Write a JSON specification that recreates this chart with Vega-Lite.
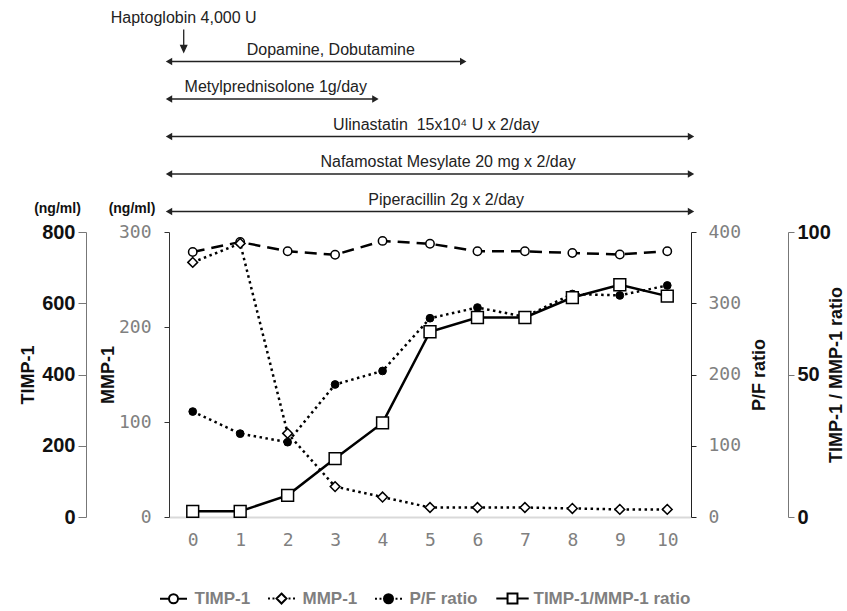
{
  "$schema": "https://vega.github.io/schema/vega-lite/v6.json",
  "padding": {"left": 19, "top": 10, "right": 4, "bottom": 4},
  "background": "white",
  "datasets": {
    "series": [
      {"series": "TIMP-1", "day": 0, "value": 744},
      {"series": "TIMP-1", "day": 1, "value": 772},
      {"series": "TIMP-1", "day": 2, "value": 746},
      {"series": "TIMP-1", "day": 3, "value": 736},
      {"series": "TIMP-1", "day": 4, "value": 775},
      {"series": "TIMP-1", "day": 5, "value": 767},
      {"series": "TIMP-1", "day": 6, "value": 746},
      {"series": "TIMP-1", "day": 7, "value": 746},
      {"series": "TIMP-1", "day": 8, "value": 741},
      {"series": "TIMP-1", "day": 9, "value": 737},
      {"series": "TIMP-1", "day": 10, "value": 746},
      {"series": "MMP-1", "day": 0, "value": 268},
      {"series": "MMP-1", "day": 1, "value": 288},
      {"series": "MMP-1", "day": 2, "value": 88},
      {"series": "MMP-1", "day": 3, "value": 32},
      {"series": "MMP-1", "day": 4, "value": 21},
      {"series": "MMP-1", "day": 5, "value": 10},
      {"series": "MMP-1", "day": 6, "value": 10},
      {"series": "MMP-1", "day": 7, "value": 10},
      {"series": "MMP-1", "day": 8, "value": 9},
      {"series": "MMP-1", "day": 9, "value": 8},
      {"series": "MMP-1", "day": 10, "value": 8},
      {"series": "P/F ratio", "day": 0, "value": 148},
      {"series": "P/F ratio", "day": 1, "value": 117},
      {"series": "P/F ratio", "day": 2, "value": 105},
      {"series": "P/F ratio", "day": 3, "value": 186},
      {"series": "P/F ratio", "day": 4, "value": 205},
      {"series": "P/F ratio", "day": 5, "value": 279},
      {"series": "P/F ratio", "day": 6, "value": 294},
      {"series": "P/F ratio", "day": 7, "value": 281},
      {"series": "P/F ratio", "day": 8, "value": 313},
      {"series": "P/F ratio", "day": 9, "value": 311},
      {"series": "P/F ratio", "day": 10, "value": 325},
      {"series": "TIMP-1/MMP-1 ratio", "day": 0, "value": 2},
      {"series": "TIMP-1/MMP-1 ratio", "day": 1, "value": 2},
      {"series": "TIMP-1/MMP-1 ratio", "day": 2, "value": 7.6},
      {"series": "TIMP-1/MMP-1 ratio", "day": 3, "value": 20.5},
      {"series": "TIMP-1/MMP-1 ratio", "day": 4, "value": 33},
      {"series": "TIMP-1/MMP-1 ratio", "day": 5, "value": 65},
      {"series": "TIMP-1/MMP-1 ratio", "day": 6, "value": 70},
      {"series": "TIMP-1/MMP-1 ratio", "day": 7, "value": 70},
      {"series": "TIMP-1/MMP-1 ratio", "day": 8, "value": 77},
      {"series": "TIMP-1/MMP-1 ratio", "day": 9, "value": 81.5},
      {"series": "TIMP-1/MMP-1 ratio", "day": 10, "value": 77.5}
    ],
    "notes": [
      {"label": "Haptoglobin 4,000 U", "kind": "event", "row": 0, "start": -0.19, "end": -0.19, "label_day": -0.19},
      {"label": "Dopamine, Dobutamine", "kind": "range", "row": 1, "start": -0.5, "end": 5.7, "label_day": 2.91},
      {"label": "Metylprednisolone 1g/day", "kind": "range", "row": 2, "start": -0.5, "end": 3.85, "label_day": 1.75},
      {"label": "Ulinastatin\u00a0 15x10⁴ U x 2/day", "kind": "range", "row": 3, "start": -0.5, "end": 10.5, "label_day": 5.13},
      {"label": "Nafamostat Mesylate 20 mg x 2/day", "kind": "range", "row": 4, "start": -0.5, "end": 10.5, "label_day": 5.38},
      {"label": "Piperacillin 2g x 2/day", "kind": "range", "row": 5, "start": -0.5, "end": 10.5, "label_day": 5.34},
      {"label": "(ng/ml)", "kind": "unit", "row": 5, "label_day": -2.85},
      {"label": "(ng/ml)", "kind": "unit", "row": 5, "label_day": -1.28}
    ]
  },
  "bounds": "flush",
  "spacing": 20,
  "vconcat": [
    {
      "width": 522,
      "height": 187.5,
      "data": {"name": "notes"},
      "encoding": {
        "x": {"field": "start", "type": "quantitative", "scale": {"domain": [-0.5, 10.5], "nice": false, "zero": false}, "axis": null},
        "y": {"field": "row", "type": "quantitative", "scale": {"domain": [0, 5], "reverse": true, "nice": false, "zero": false}, "axis": null}
      },
      "layer": [
        {
          "transform": [{"filter": "datum.kind === 'range'"}],
          "mark": {"type": "rule", "color": "#222", "strokeWidth": 1.5},
          "encoding": {"x2": {"field": "end"}}
        },
        {
          "transform": [{"filter": "datum.kind === 'range'"}],
          "mark": {"type": "point", "shape": "triangle-left", "filled": true, "color": "#222", "size": 55, "opacity": 1}
        },
        {
          "transform": [{"filter": "datum.kind === 'range'"}],
          "mark": {"type": "point", "shape": "triangle-right", "filled": true, "color": "#222", "size": 55, "opacity": 1},
          "encoding": {"x": {"field": "end", "type": "quantitative"}}
        },
        {
          "transform": [{"filter": "datum.kind === 'event'"}],
          "mark": {"type": "point", "shape": "M0,0.55V2.2M-0.3,2.15L0.3,2.15L0,2.8Z", "filled": true, "fill": "#222", "stroke": "#222", "strokeWidth": 1.3, "size": 400, "opacity": 1}
        },
        {
          "transform": [{"filter": "datum.kind === 'range'"}],
          "mark": {"type": "text", "font": "Liberation Sans", "fontSize": 16, "color": "#222", "dy": -12},
          "encoding": {"x": {"field": "label_day", "type": "quantitative"}, "text": {"field": "label"}}
        },
        {
          "transform": [{"filter": "datum.kind === 'event'"}],
          "mark": {"type": "text", "font": "Liberation Sans", "fontSize": 16, "color": "#222", "dy": -6},
          "encoding": {"x": {"field": "label_day", "type": "quantitative"}, "text": {"field": "label"}}
        },
        {
          "transform": [{"filter": "datum.kind === 'unit'"}],
          "mark": {"type": "text", "font": "Liberation Sans", "fontSize": 14, "fontWeight": "bold", "color": "#111", "dy": -3},
          "encoding": {"x": {"field": "label_day", "type": "quantitative"}, "text": {"field": "label"}}
        }
      ]
    },
    {
      "width": 522,
      "height": 285,
      "data": {"name": "series"},
      "encoding": {
        "x": {
          "field": "day", "type": "quantitative",
          "scale": {"domain": [-0.5, 10.5], "nice": false, "zero": false},
          "axis": {"values": [0, 1, 2, 3, 4, 5, 6, 7, 8, 9, 10], "format": "d", "title": null, "ticks": false, "grid": false, "domainColor": "#d9d9d9", "domainWidth": 2, "labelFont": "DejaVu Sans Mono", "labelFontSize": 18, "labelColor": "#808080", "labelPadding": 14, "labelFlush": false}
        }
      },
      "layer": [
        {
          "transform": [{"filter": "datum.series === 'TIMP-1'"}],
          "encoding": {
            "y": {"field": "value", "type": "quantitative", "scale": {"domain": [0, 800], "nice": false},
              "axis": {"orient": "left", "offset": 83, "values": [0, 200, 400, 600, 800], "title": "TIMP-1", "grid": false, "tickSize": 8, "tickColor": "#777", "domainColor": "#777", "labelFont": "Liberation Sans", "labelFontWeight": "bold", "labelFontSize": 20, "labelColor": "#111", "labelPadding": 3, "titleFont": "Liberation Sans", "titleFontSize": 18, "titleFontWeight": "bold", "titleColor": "#111", "titlePadding": 4}}
          },
          "layer": [
            {"mark": {"type": "line", "stroke": "black", "strokeWidth": 2.5, "strokeDash": [12, 7]}},
            {"mark": {"type": "point", "shape": "circle", "filled": true, "fill": "white", "stroke": "black", "strokeWidth": 1.5, "size": 70, "opacity": 1}}
          ]
        },
        {
          "transform": [{"filter": "datum.series === 'MMP-1'"}],
          "encoding": {
            "y": {"field": "value", "type": "quantitative", "scale": {"domain": [0, 300], "nice": false},
              "axis": {"orient": "left", "offset": 0, "values": [0, 100, 200, 300], "title": "MMP-1", "grid": false, "tickSize": 5, "tickColor": "#333", "domainColor": "#333", "labelFont": "DejaVu Sans Mono", "labelFontSize": 18, "labelColor": "#808080", "labelPadding": 13, "titleFont": "Liberation Sans", "titleFontSize": 18, "titleFontWeight": "bold", "titleColor": "#111", "titlePadding": 1}}
          },
          "layer": [
            {"mark": {"type": "line", "stroke": "black", "strokeWidth": 2.5, "strokeDash": [2.5, 3.5]}},
            {"mark": {"type": "point", "shape": "diamond", "filled": true, "fill": "white", "stroke": "black", "strokeWidth": 1.5, "size": 95, "opacity": 1}}
          ]
        },
        {
          "transform": [{"filter": "datum.series === 'P/F ratio'"}],
          "encoding": {
            "y": {"field": "value", "type": "quantitative", "scale": {"domain": [0, 400], "nice": false},
              "axis": {"orient": "right", "offset": 0, "values": [0, 100, 200, 300, 400], "title": "P/F ratio", "grid": false, "tickSize": 5, "tickColor": "#222", "domainColor": "#222", "labelFont": "DejaVu Sans Mono", "labelFontSize": 18, "labelColor": "#808080", "labelPadding": 12, "titleFont": "Liberation Sans", "titleFontSize": 18, "titleFontWeight": "bold", "titleColor": "#111", "titlePadding": 28, "titleAngle": 270}}
          },
          "layer": [
            {"mark": {"type": "line", "stroke": "black", "strokeWidth": 2.5, "strokeDash": [2.5, 3.5]}},
            {"mark": {"type": "point", "shape": "circle", "filled": true, "fill": "black", "stroke": "black", "strokeWidth": 1, "size": 60, "opacity": 1}}
          ]
        },
        {
          "transform": [{"filter": "datum.series === 'TIMP-1/MMP-1 ratio'"}],
          "encoding": {
            "y": {"field": "value", "type": "quantitative", "scale": {"domain": [0, 100], "nice": false},
              "axis": {"orient": "right", "offset": 97, "values": [0, 50, 100], "title": "TIMP-1 / MMP-1 ratio", "grid": false, "tickSize": 6, "tickColor": "#777", "domainColor": "#777", "labelFont": "Liberation Sans", "labelFontWeight": "bold", "labelFontSize": 20, "labelColor": "#111", "labelPadding": 3, "titleFont": "Liberation Sans", "titleFontSize": 18, "titleFontWeight": "bold", "titleColor": "#111", "titlePadding": 15, "titleAngle": 270}}
          },
          "layer": [
            {"mark": {"type": "line", "stroke": "black", "strokeWidth": 2.5}},
            {"mark": {"type": "point", "shape": "square", "filled": true, "fill": "white", "stroke": "black", "strokeWidth": 1.5, "size": 140, "opacity": 1}}
          ]
        },
        {
          "transform": [{"filter": "false"}],
          "mark": {"type": "point", "filled": true, "strokeWidth": 2, "opacity": 1},
          "encoding": {
            "shape": {
              "field": "series", "type": "nominal",
              "scale": {
                "domain": ["TIMP-1", "MMP-1", "P/F ratio", "TIMP-1/MMP-1 ratio"],
                "range": [
                  "M-1.5,0H-0.5M0.5,0H1.5M-0.5,0A0.5,0.5,0,1,1,0.5,0A0.5,0.5,0,1,1,-0.5,0Z",
                  "M-1.5,0H-1.28M-1.0,0H-0.78M0.78,0H1.0M1.28,0H1.5M0,-0.55L0.55,0L0,0.55L-0.55,0Z",
                  "M-1.5,0H-1.28M-1.0,0H-0.78M0.78,0H1.0M1.28,0H1.5M-0.5,0A0.5,0.5,0,1,1,0.5,0A0.5,0.5,0,1,1,-0.5,0Z",
                  "M-1.8,0H-0.55M0.55,0H1.8M-0.55,-0.55H0.55V0.55H-0.55Z"
                ]
              },
              "legend": {"title": null, "orient": "none", "legendX": -5.5, "legendY": 564.5, "direction": "horizontal", "symbolSize": 324, "symbolStrokeWidth": 2, "labelFont": "Liberation Sans", "labelFontSize": 17, "labelFontWeight": "bold", "labelColor": "#7f7f7f", "labelOffset": 11, "columnPadding": 13, "padding": 0, "labelLimit": 400}
            },
            "fill": {
              "field": "series", "type": "nominal",
              "scale": {"domain": ["TIMP-1", "MMP-1", "P/F ratio", "TIMP-1/MMP-1 ratio"], "range": ["white", "white", "black", "white"]},
              "legend": {"title": null, "orient": "none", "legendX": -5.5, "legendY": 564.5, "direction": "horizontal", "symbolSize": 324, "symbolStrokeWidth": 2, "labelFont": "Liberation Sans", "labelFontSize": 17, "labelFontWeight": "bold", "labelColor": "#7f7f7f", "labelOffset": 11, "columnPadding": 13, "padding": 0, "labelLimit": 400}
            },
            "stroke": {
              "field": "series", "type": "nominal",
              "scale": {"domain": ["TIMP-1", "MMP-1", "P/F ratio", "TIMP-1/MMP-1 ratio"], "range": ["black", "black", "black", "black"]},
              "legend": {"title": null, "orient": "none", "legendX": -5.5, "legendY": 564.5, "direction": "horizontal", "symbolSize": 324, "symbolStrokeWidth": 2, "labelFont": "Liberation Sans", "labelFontSize": 17, "labelFontWeight": "bold", "labelColor": "#7f7f7f", "labelOffset": 11, "columnPadding": 13, "padding": 0, "labelLimit": 400}
            }
          }
        }
      ],
      "resolve": {"scale": {"y": "independent"}}
    }
  ],
  "config": {"view": {"stroke": null}, "axis": {"grid": false}}
}
